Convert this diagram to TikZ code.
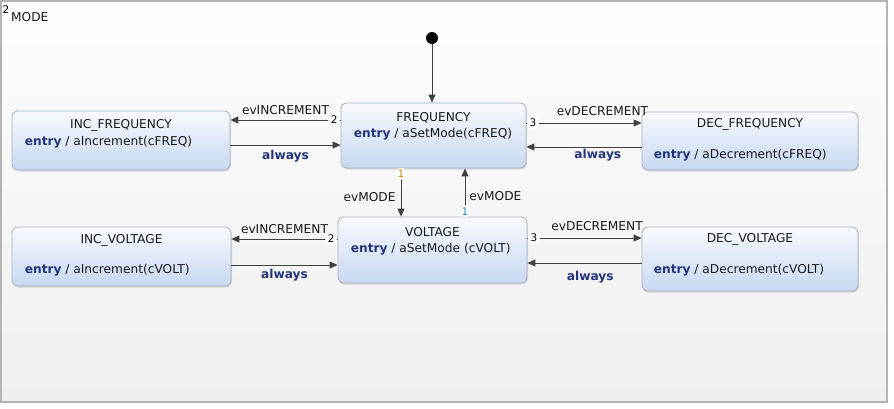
\documentclass[tikz,border=0pt]{standalone}
\usepackage{fontspec}
\setmainfont{DejaVu Sans}
\usetikzlibrary{arrows.meta,shadows,positioning}

\definecolor{linegray}{HTML}{404040}
\definecolor{framegray}{HTML}{B4B4B4}
\definecolor{frametop}{HTML}{FDFDFD}
\definecolor{framebottom}{HTML}{EFEFEF}
\definecolor{boxborder}{HTML}{A9B1BD}
\definecolor{boxtop}{HTML}{F8FAFE}
\definecolor{boxbottom}{HTML}{C7D8F1}
\definecolor{keyblue}{HTML}{23347A}
\definecolor{portorange}{HTML}{D98500}
\definecolor{portblue}{HTML}{2B86D6}

\newcommand{\kw}[1]{\textcolor{keyblue}{\textbf{#1}}}

\tikzset{
	state/.style={draw=boxborder, line width=0.8pt, rounded corners=6pt, inner sep=0pt,
		top color=boxtop, bottom color=boxbottom,
		drop shadow={shadow xshift=1pt, shadow yshift=-1.5pt, opacity=0.25}},
	trans/.style={draw=linegray, line width=0.9pt, -{Triangle[length=8pt,width=7pt]}},
	lbl/.style={font=\fontsize{12.2}{14}\selectfont, inner sep=1pt, text=black!90},
	port/.style={font=\fontsize{10.5}{11}\selectfont, fill=white, circle, inner sep=0.6pt},
}

\begin{document}
\begin{tikzpicture}[x=1pt, y=-1pt]
		\useasboundingbox (0,0) rectangle (894,408);

		\node[draw=framegray, line width=1.2pt, top color=frametop, bottom color=framebottom,
			minimum width=886pt, minimum height=401pt, inner sep=0pt] (mode) at (444,201.5) {};
		\node[lbl, anchor=west] (modename) at (10,17) {MODE};
		\node[font=\fontsize{10.5}{11}\selectfont, inner sep=0pt] (modeport) at (6,10) {2};

		\node[state, minimum width=218pt, minimum height=59pt] (incf) at (121,140.5) {};
		\node[state, minimum width=185pt, minimum height=65pt] (freq) at (433.5,135.5) {};
		\node[state, minimum width=216pt, minimum height=58pt] (decf) at (750,141) {};
		\node[state, minimum width=219pt, minimum height=59pt] (incv) at (121.5,256.5) {};
		\node[state, minimum width=189pt, minimum height=66pt] (volt) at (432.5,250) {};
		\node[state, minimum width=216pt, minimum height=64pt] (decv) at (750,259) {};

		\node[lbl] (incftitle) at ([yshift=-15pt]incf.north) {INC\_FREQUENCY};
		\node[lbl, anchor=west] (incfentry) at ([xshift=12pt, yshift=-31.5pt]incf.north west) {\kw{entry} / aIncrement(cFREQ)};
		\node[lbl] (freqtitle) at ([yshift=-15pt]freq.north) {FREQUENCY};
		\node[lbl, anchor=west] (freqentry) at ([xshift=12pt, yshift=-31.5pt]freq.north west) {\kw{entry} / aSetMode(cFREQ)};
		\node[lbl] (decftitle) at ([yshift=-13pt]decf.north) {DEC\_FREQUENCY};
		\node[lbl, anchor=west] (decfentry) at ([xshift=11pt, yshift=-44pt]decf.north west) {\kw{entry} / aDecrement(cFREQ)};
		\node[lbl] (incvtitle) at ([yshift=-14pt]incv.north) {INC\_VOLTAGE};
		\node[lbl, anchor=west] (incventry) at ([xshift=12pt, yshift=-44pt]incv.north west) {\kw{entry} / aIncrement(cVOLT)};
		\node[lbl] (volttitle) at ([yshift=-15pt]volt.north) {VOLTAGE};
		\node[lbl, anchor=west] (voltentry) at ([xshift=12pt, yshift=-33pt]volt.north west) {\kw{entry} / aSetMode (cVOLT)};
		\node[lbl] (decvtitle) at ([yshift=-13pt]decv.north) {DEC\_VOLTAGE};
		\node[lbl, anchor=west] (decventry) at ([xshift=11pt, yshift=-44pt]decv.north west) {\kw{entry} / aDecrement(cVOLT)};

		\node[circle, fill=black, minimum size=12pt, inner sep=0pt] (init) at (432,38) {};

		\coordinate (rowfa) at (0,120);
		\coordinate (rowfb) at (0,145);
		\coordinate (rowfc) at (0,123);
		\coordinate (rowfd) at (0,147);
		\coordinate (rowva) at (0,239);
		\coordinate (rowvb) at (0,265);
		\coordinate (rowvc) at (0,238);
		\coordinate (rowvd) at (0,263);
		\coordinate (coldown) at (401,0);
		\coordinate (colup) at (465,0);

		\draw[trans] (init) -- (init |- freq.north);

		\draw[trans] (freq.west |- rowfa) node[port, left=0pt] (pfa) {2}
					-- node[lbl, above=3.5pt] (evincf) {evINCREMENT} (incf.east |- rowfa);
		\draw[trans] (incf.east |- rowfb) -- node[lbl, below=4pt] (alwincf) {\kw{always}} (freq.west |- rowfb);
		\draw[trans] (freq.east |- rowfc) node[port, right=0pt] (pfc) {3}
					-- node[lbl, above=5.5pt, pos=0.66] (evdecf) {evDECREMENT} (decf.west |- rowfc);
		\draw[trans] (decf.west |- rowfd) -- node[lbl, below=1pt, pos=0.38] (alwdecf) {\kw{always}} (freq.east |- rowfd);

		\draw[trans] (freq.south -| coldown) node[port, below=-1pt, text=portorange] (pdown) {1}
					-- node[lbl, left=4pt, pos=0.6] (evmodedown) {evMODE} (volt.north -| coldown);
		\draw[trans] (volt.north -| colup) node[port, above=-1pt, text=portblue] (pup) {1}
					-- node[lbl, right=3pt, pos=0.43] (evmodeup) {evMODE} (freq.south -| colup);

		\draw[trans] (volt.west |- rowva) node[port, left=0pt] (pva) {2}
					-- node[lbl, above=3.5pt] (evincv) {evINCREMENT} (incv.east |- rowva);
		\draw[trans] (incv.east |- rowvb) -- node[lbl, below=3pt] (alwincv) {\kw{always}} (volt.west |- rowvb);
		\draw[trans] (volt.east |- rowvc) node[port, right=0pt] (pvc) {3}
					-- node[lbl, above=5.5pt, pos=0.61] (evdecv) {evDECREMENT} (decv.west |- rowvc);
		\draw[trans] (decv.west |- rowvd) -- node[lbl, below=7pt, pos=0.45] (alwdecv) {\kw{always}} (volt.east |- rowvd);

	\end{tikzpicture}
\end{document}
